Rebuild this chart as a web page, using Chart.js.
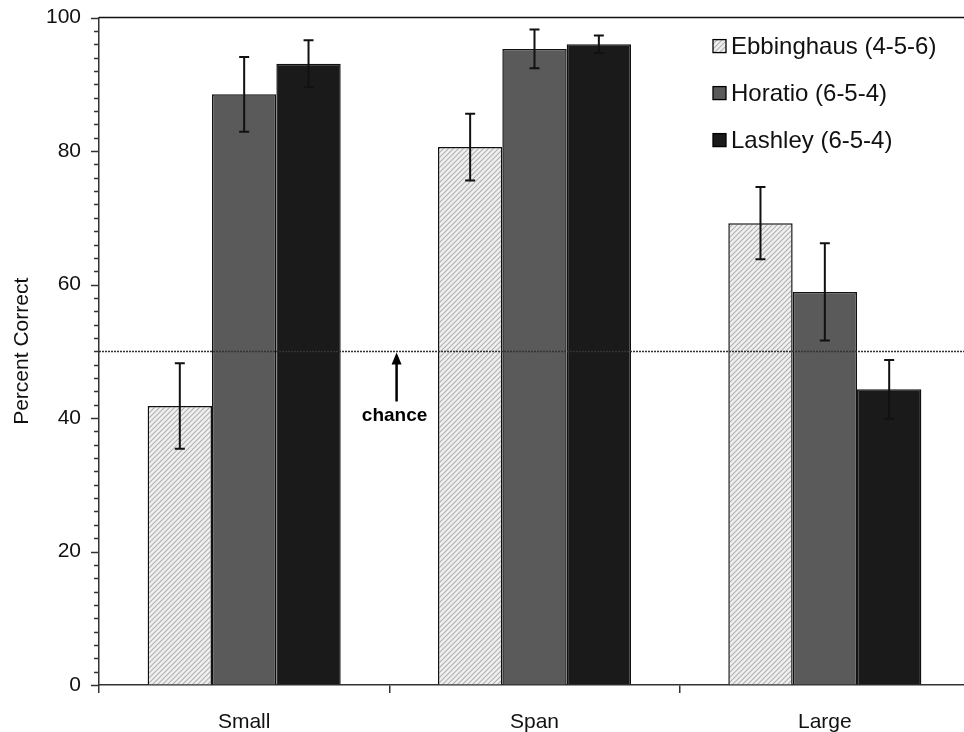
<!DOCTYPE html>
<html>
<head>
<meta charset="utf-8">
<script src="https://cdn.jsdelivr.net/npm/chart.js@4.4.1/dist/chart.umd.min.js"></script>
<style>
  html, body { margin: 0; padding: 0; background: #fff; overflow: hidden; }
  #wrap { width: 975px; height: 745px; margin-top: -13px; }
</style>
</head>
<body>
<div id="wrap"><canvas id="c" width="975" height="745"></canvas></div>
<script>
// ---------- DATA ----------
const categories = ["Small", "Span", "Large"];
const seriesNames = ["Ebbinghaus (4-5-6)", "Horatio (6-5-4)", "Lashley (6-5-4)"];
const ebbinghaus = [41.8, 80.6, 69.2];
const horatio = [88.5, 95.3, 58.9];
const lashley = [93.1, 96.0, 44.3];
const ebbErr = [6.4, 5.0, 5.4];
const horErr = [5.6, 2.9, 7.3];
const lasErr = [3.5, 1.3, 4.4];
const chanceLevel = 50;
const chanceLabel = "chance";
const yTicks = [0, 20, 40, 60, 80, 100];

// ---------- STYLE HELPERS ----------
function hatchPattern() {
  const p = document.createElement("canvas");
  p.width = 5; p.height = 5;
  const g = p.getContext("2d");
  g.fillStyle = "#f0f0f0";
  g.fillRect(0, 0, 5, 5);
  g.strokeStyle = "#b0b0b0";
  g.lineWidth = 1.1;
  g.beginPath();
  g.moveTo(-1, 6); g.lineTo(6, -1);
  g.moveTo(-1, 1); g.lineTo(1, -1);
  g.moveTo(4, 6); g.lineTo(6, 4);
  g.stroke();
  return document.getElementById("c").getContext("2d").createPattern(p, "repeat");
}

const FONT = "'Liberation Sans', Arial, sans-serif";

// ---------- PLUGINS ----------
const decorations = {
  id: "decorations",
  afterDatasetsDraw(chart) {
    const { ctx, chartArea: a, scales } = chart;
    const y = scales.y, x = scales.x;
    ctx.save();

    // error bars
    chart.data.datasets.forEach((ds, i) => {
      const meta = chart.getDatasetMeta(i);
      meta.data.forEach((bar, j) => {
        const v = ds.data[j], e = ds.errors[j];
        const top = y.getPixelForValue(v + e), bot = y.getPixelForValue(v - e);
        ctx.strokeStyle = "#111";
        ctx.lineWidth = 2;
        ctx.beginPath();
        ctx.moveTo(bar.x, top); ctx.lineTo(bar.x, bot);
        ctx.moveTo(bar.x - 5, top); ctx.lineTo(bar.x + 5, top);
        ctx.moveTo(bar.x - 5, bot); ctx.lineTo(bar.x + 5, bot);
        ctx.stroke();
      });
    });

    // chance line
    const cy = Math.round(y.getPixelForValue(chanceLevel)) + 0.5;
    ctx.strokeStyle = "#333";
    ctx.lineWidth = 1.6;
    ctx.setLineDash([2, 1]);
    ctx.beginPath();
    ctx.moveTo(a.left, cy); ctx.lineTo(a.right, cy);
    ctx.stroke();
    ctx.setLineDash([]);

    // arrow + label
    const ax = x.getPixelForValue(0.525);
    ctx.fillStyle = "#000";
    ctx.strokeStyle = "#000";
    ctx.lineWidth = 2.5;
    ctx.beginPath();
    ctx.moveTo(ax, cy + 50); ctx.lineTo(ax, cy + 10);
    ctx.stroke();
    ctx.beginPath();
    ctx.moveTo(ax, cy + 1); ctx.lineTo(ax - 5, cy + 13); ctx.lineTo(ax + 5, cy + 13);
    ctx.closePath(); ctx.fill();
    ctx.font = "bold 19px " + FONT;
    ctx.textAlign = "center"; ctx.textBaseline = "middle";
    ctx.fillText(chanceLabel, ax - 2, cy + 64);

    // top frame line
    ctx.strokeStyle = "#111";
    ctx.lineWidth = 1.5;
    ctx.beginPath();
    ctx.moveTo(a.left, a.top); ctx.lineTo(a.right, a.top);
    ctx.stroke();

    // y minor / major ticks
    ctx.lineWidth = 1.5;
    ctx.strokeStyle = "#333";
    for (let v = 0; v <= 100; v += 2) {
      const py = Math.round(y.getPixelForValue(v)) + 0.5;
      const len = v % 20 === 0 ? 8 : 5;
      ctx.beginPath();
      ctx.moveTo(a.left - len, py); ctx.lineTo(a.left, py);
      ctx.stroke();
    }

    // legend
    ctx.font = "24px " + FONT;
    ctx.textAlign = "left"; ctx.textBaseline = "middle";
    chart.data.datasets.forEach((ds, i) => {
      const ly = a.top + 29 + i * 47;
      ctx.fillStyle = ds.backgroundColor;
      ctx.fillRect(713, ly - 7, 13, 13);
      ctx.strokeStyle = "#000";
      ctx.lineWidth = 1.3;
      ctx.strokeRect(713, ly - 7, 13, 13);
      ctx.fillStyle = "#111";
      ctx.fillText(ds.label, 731, ly + 1);
    });
    ctx.restore();
  }
};

// ---------- CHART ----------
const values = [ebbinghaus, horatio, lashley];
const errors = [ebbErr, horErr, lasErr];
const fills = [hatchPattern(), "#5a5a5a", "#1a1a1a"];

new Chart(document.getElementById("c"), {
  type: "bar",
  data: {
    labels: categories,
    datasets: seriesNames.map((name, i) => ({
      label: name,
      data: values[i],
      errors: errors[i],
      backgroundColor: fills[i],
      borderColor: "#111",
      borderWidth: 1.5,
      categoryPercentage: 0.665,
      barPercentage: 1.0,
    })),
  },
  options: {
    responsive: false,
    animation: false,
    layout: { padding: { top: 0, right: 5, left: 0, bottom: 0 } },
    plugins: { legend: { display: false }, tooltip: { enabled: false } },
    scales: {
      x: {
        grid: { offset: true, drawOnChartArea: false, color: "#333", tickLength: 8, lineWidth: 1.5 },
        border: { color: "#333", width: 1.5 },
        ticks: { color: "#111", font: { family: FONT, size: 21 }, padding: 17 },
        afterFit(s) { s.height = 47; },
      },
      y: {
        min: 0, max: 100,
        afterBuildTicks(s) { s.ticks = yTicks.map(v => ({ value: v })); },
        grid: { drawOnChartArea: false, drawTicks: false },
        border: { color: "#333", width: 1.5 },
        ticks: { color: "#111", font: { family: FONT, size: 21 }, padding: 18 },
        title: { display: true, text: "Percent Correct", color: "#111", font: { family: FONT, size: 21 }, padding: { top: 10, bottom: 0 } },
        afterFit(s) { s.width = 99; },
      },
    },
  },
  plugins: [decorations],
});
</script>
</body>
</html>
